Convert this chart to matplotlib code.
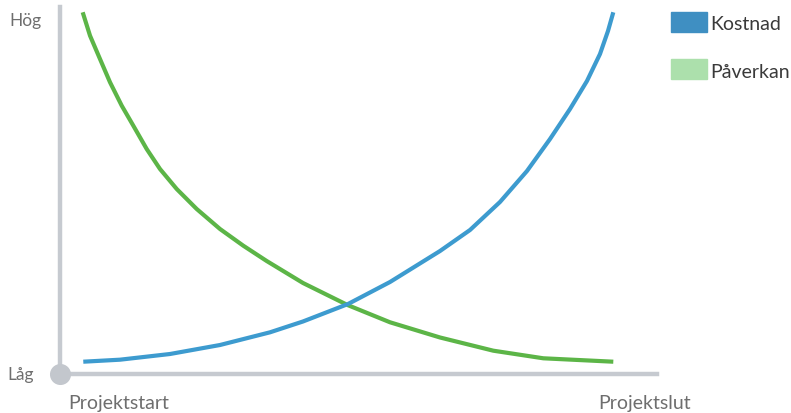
import numpy as np
import matplotlib
matplotlib.use("Agg")
import matplotlib.pyplot as plt
from matplotlib.patches import Rectangle

# projektets förlopp (0 = start, 100 = slut), nivå 0 = låg, 100 = hög
kostnad_x = [3.90, 10.05, 18.43, 26.80, 35.18, 40.70, 48.24, 55.28, 63.65, 68.68, 73.70,
             78.22, 82.08, 85.43, 88.27, 90.45, 91.79, 92.68]
kostnad_y = [3.35, 3.90, 5.45, 7.90, 11.36, 14.31, 19.07, 25.07, 33.51, 39.24, 46.87,
             55.31, 64.03, 72.21, 79.84, 87.19, 93.46, 98.56]

paverkan_x = [3.80, 5.03, 6.70, 8.38, 10.34, 12.28, 14.52, 16.75, 19.55, 22.90, 26.80,
              30.70, 34.62, 40.70, 48.16, 55.28, 63.65, 72.58, 80.95, 92.68]
paverkan_y = [98.56, 92.18, 85.83, 79.48, 73.11, 67.66, 61.31, 55.86, 50.41, 44.96, 39.51,
              34.96, 30.79, 24.80, 18.80, 14.09, 9.95, 6.35, 4.28, 3.35]

serier = ["Kostnad", "Påverkan"]
linjefarger = ["#3d9bcf", "#5cb547"]
legendfarger = ["#3f8fc2", "#ace0ac"]

plt.rcParams['font.family'] = ['Lato', 'DejaVu Sans']
textfarg = "#6e6e6e"
axelfarg = "#c6cad0"

fig = plt.figure(figsize=(7.91, 4.14), dpi=100)
ax = fig.add_axes([60 / 791, 1 - 375 / 414, 597 / 791, 367 / 414])

ax.plot(paverkan_x, paverkan_y, color=linjefarger[1], lw=3, solid_capstyle='butt',
        solid_joinstyle='round')
ax.plot(kostnad_x, kostnad_y, color=linjefarger[0], lw=3, solid_capstyle='butt',
        solid_joinstyle='round')

ax.set_xlim(0, 100)
ax.set_ylim(0, 100)
for s in ["top", "right"]:
    ax.spines[s].set_visible(False)
for s in ["left", "bottom"]:
    ax.spines[s].set_color(axelfarg)
    ax.spines[s].set_linewidth(3.2)
ax.set_xticks([])
ax.set_yticks([])
ax.scatter([0], [0], s=200, color="#c3c7cd", clip_on=False, zorder=5)

fig.text(9 / 791, 1 - 21 / 414, "Hög", fontsize=12.5, color=textfarg, va="center")
fig.text(7 / 791, 1 - 375 / 414, "Låg", fontsize=12.5, color=textfarg, va="center")
fig.text(68 / 791, 1 - 404 / 414, "Projektstart", fontsize=14, color=textfarg, va="center")
fig.text(598 / 791, 1 - 404 / 414, "Projektslut", fontsize=14, color=textfarg, va="center")

# legend
for i, (namn, farg) in enumerate(zip(serier, legendfarger)):
    top = 13 + i * 47
    fig.patches.append(Rectangle((671 / 791, 1 - (top + 20) / 414), 36 / 791, 20 / 414,
                                 transform=fig.transFigure, color=farg))
    fig.text(710 / 791, 1 - (top + 12) / 414, namn, fontsize=14, color="#3a3a3a", va="center")

fig.savefig("out.png", dpi=100)
